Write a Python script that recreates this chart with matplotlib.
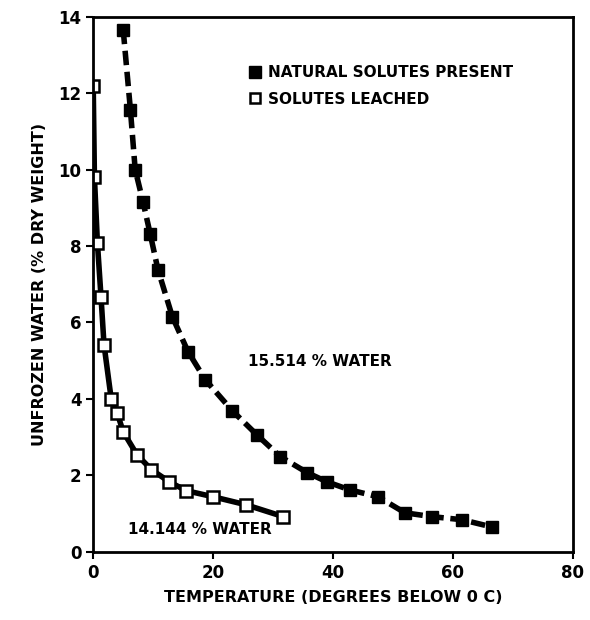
import matplotlib.pyplot as plt
from matplotlib.lines import Line2D

plt.rcParams['font.family'] = ['DejaVu Sans']
plt.rcParams['font.weight'] = 'bold'

# natural solutes present (filled squares, dashed)
nat_t = [5.0, 6.2, 7.0, 8.3, 9.5, 10.8, 13.2, 15.8, 18.7, 23.2, 27.3, 31.2,
         35.7, 39.0, 42.8, 47.5, 52.0, 56.5, 61.5, 66.5]
nat_w = [13.66, 11.57, 10.0, 9.16, 8.32, 7.38, 6.15, 5.24, 4.5, 3.69, 3.06, 2.49,
         2.07, 1.83, 1.62, 1.44, 1.02, 0.92, 0.84, 0.65]

# solutes leached (open squares, solid)
lea_t = [0.0, 0.2, 0.7, 1.3, 1.8, 3.0, 4.0, 5.0, 7.3, 9.7, 12.7, 15.5, 20.0, 25.5, 31.7]
lea_w = [12.2, 9.8, 8.08, 6.67, 5.42, 4.0, 3.63, 3.14, 2.54, 2.15, 1.83, 1.6, 1.44, 1.23, 0.92]

xticks = [0, 20, 40, 60, 80]
yticks = [0, 2, 4, 6, 8, 10, 12, 14]

fig = plt.figure(figsize=(5.9, 6.2), dpi=100)
ax = fig.add_axes([0.158, 0.110, 0.813, 0.863])

ax.plot(nat_t, nat_w, color='black', lw=4, ls=(0, (2.6, 1.2)), marker='s',
        markersize=8.5, markerfacecolor='black', markeredgecolor='black')
ax.plot(lea_t, lea_w, color='black', lw=4, ls='-', marker='s',
        markersize=8, markerfacecolor='white', markeredgecolor='black', markeredgewidth=1.8)

ax.set_xlim(0, 80)
ax.set_ylim(0, 14)
ax.set_xticks(xticks)
ax.set_yticks(yticks)
ax.tick_params(direction='out', length=5, width=1.5, labelsize=12)
for s in ax.spines.values():
    s.set_linewidth(2)

ax.set_xlabel('TEMPERATURE (DEGREES BELOW 0 C)', fontsize=11.5, fontweight='bold', labelpad=6)
ax.set_ylabel('UNFROZEN WATER (% DRY WEIGHT)', fontsize=11.5, fontweight='bold', labelpad=8)

handles = [
    Line2D([], [], ls='none', marker='s', markersize=8, markerfacecolor='black', markeredgecolor='black'),
    Line2D([], [], ls='none', marker='s', markersize=7, markerfacecolor='white', markeredgecolor='black', markeredgewidth=1.8),
]
ax.legend(handles, ['NATURAL SOLUTES PRESENT', 'SOLUTES LEACHED'], loc='upper left',
          bbox_to_anchor=(0.295, 0.935), frameon=False, handlelength=0.8, handletextpad=0.5,
          labelspacing=0.75, prop={'size': 11, 'weight': 'bold'})

ax.text(25.8, 4.97, '15.514 % WATER', fontsize=11, fontweight='bold', va='center', ha='left')
ax.text(5.8, 0.58, '14.144 % WATER', fontsize=11, fontweight='bold', va='center', ha='left')

fig.savefig('out.png', dpi=100)
